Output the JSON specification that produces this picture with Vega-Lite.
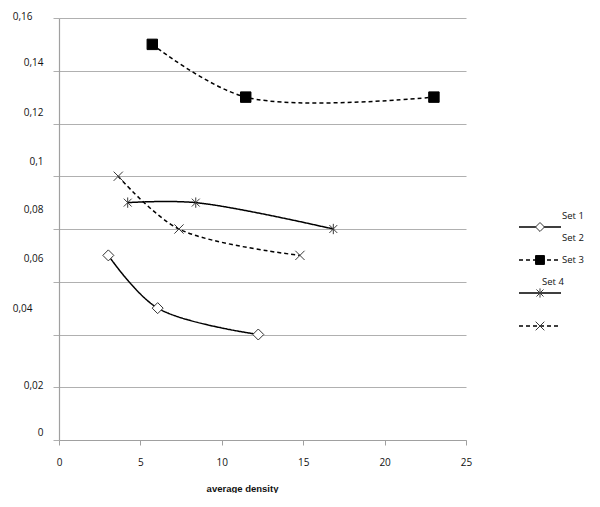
{
  "$schema": "https://vega.github.io/schema/vega-lite/v6.json",
  "padding": {"left": 12, "top": 11, "right": 0, "bottom": 0},
  "config": {"view": {"stroke": null}, "font": "Open Sans"},
  "data": {"values": [
    {"set": "Set 1", "x": 3.03, "y": 0.07},
    {"set": "Set 1", "x": 6.06, "y": 0.05},
    {"set": "Set 1", "x": 12.24, "y": 0.04},
    {"set": "Set 2", "x": 5.73, "y": 0.15},
    {"set": "Set 2", "x": 11.47, "y": 0.13},
    {"set": "Set 2", "x": 23.03, "y": 0.13},
    {"set": "Set 3", "x": 4.22, "y": 0.09},
    {"set": "Set 3", "x": 8.4, "y": 0.09},
    {"set": "Set 3", "x": 16.85, "y": 0.08},
    {"set": "Set 4", "x": 3.64, "y": 0.10},
    {"set": "Set 4", "x": 7.37, "y": 0.08},
    {"set": "Set 4", "x": 14.8, "y": 0.07}
  ]},
  "bounds": "flush",
  "spacing": 44,
  "hconcat": [
    {
      "width": 407,
      "height": 422,
      "layer": [
        {
          "mark": {"type": "line", "interpolate": "catmull-rom", "color": "#000000", "strokeWidth": 1.5},
          "encoding": {
            "x": {"field": "x", "type": "quantitative",
              "scale": {"domain": [0, 25], "nice": false},
              "axis": {"values": [0, 5, 10, 15, 20, 25], "grid": false, "title": "average density",
                "titleFont": "Liberation Sans", "titleFontSize": 9.5, "titleFontWeight": "bold", "titleColor": "#111111",
                "titleX": 183, "titleY": 48, "titleBaseline": "middle",
                "labelFont": "Open Sans", "labelFontSize": 10, "labelColor": "#111111", "labelFlush": false, "labelOverlap": false,
                "labelPadding": 12, "tickSize": 5, "tickColor": "#a0a0a0", "domainColor": "#a0a0a0", "domainWidth": 1.2}},
            "y": {"field": "y", "type": "quantitative",
              "scale": {"domain": [0, 0.16], "nice": false},
              "axis": {"values": [0, 0.02, 0.04, 0.06, 0.08, 0.1, 0.12, 0.14, 0.16], "title": null,
                "labelExpr": "replace(format(datum.value, '~g'), '.', ',')",
                "labelFont": "Open Sans", "labelFontSize": 10, "labelColor": "#111111", "labelFlush": false, "labelOverlap": false,
                "labelOffset": {"condition": [
                  {"test": "round(datum.value*100)==16", "value": -2},
                  {"test": "round(datum.value*100)==14", "value": -8},
                  {"test": "round(datum.value*100)==12", "value": -11},
                  {"test": "round(datum.value*100)==10", "value": -15},
                  {"test": "round(datum.value*100)==8", "value": -20},
                  {"test": "round(datum.value*100)==6", "value": -23},
                  {"test": "round(datum.value*100)==4", "value": -26},
                  {"test": "round(datum.value*100)==2", "value": -2}
                ], "value": -8},
                "labelPadding": {"condition": [
                  {"test": "round(datum.value*100)==16", "value": 21},
                  {"test": "round(datum.value*100)==4", "value": 21}
                ], "value": 10},
                "tickSize": 6, "tickColor": "#b0b0b0", "domainColor": "#a0a0a0", "domainWidth": 1.2,
                "gridColor": "#b0b0b0", "gridWidth": 1.2}},
            "detail": {"field": "set"},
            "strokeDash": {"field": "set", "type": "nominal",
              "scale": {"domain": ["Set 1", "Set 2", "Set 3", "Set 4"], "range": [[1, 0], [4, 3], [1, 0], [4, 3]]}, "legend": null}
          }
        },
        {
          "mark": {"type": "point", "filled": true, "opacity": 1, "strokeWidth": 1},
          "encoding": {
            "x": {"field": "x", "type": "quantitative"},
            "y": {"field": "y", "type": "quantitative"},
            "shape": {"field": "set", "type": "nominal", "legend": null,
              "scale": {"domain": ["Set 1", "Set 2", "Set 3", "Set 4"],
                "range": ["diamond", "square", "M-0.8,-0.8L0.8,0.8M-0.8,0.8L0.8,-0.8M0,-1.05L0,1.05", "M-1,-1L1,1M-1,1L1,-1"]}},
            "size": {"field": "set", "type": "nominal", "legend": null,
              "scale": {"domain": ["Set 1", "Set 2", "Set 3", "Set 4"], "range": [121, 85, 110, 70]}},
            "fill": {"field": "set", "type": "nominal", "legend": null,
              "scale": {"domain": ["Set 1", "Set 2", "Set 3", "Set 4"], "range": ["#ffffff", "#000000", "transparent", "transparent"]}},
            "stroke": {"field": "set", "type": "nominal", "legend": null,
              "scale": {"domain": ["Set 1", "Set 2", "Set 3", "Set 4"], "range": ["#333333", "#000000", "#3a3a3a", "#3a3a3a"]}}
          }
        }
      ]
    },
    {
      "width": 90,
      "height": 422,
      "transform": [{"aggregate": [{"op": "count", "as": "n"}], "groupby": ["set"]}],
      "layer": [
        {
          "mark": {"type": "rule", "color": "#000000", "strokeWidth": 1.5},
          "encoding": {
            "y": {"field": "set", "type": "nominal", "axis": null,
              "scale": {"type": "point", "domain": ["Set 1", "Set 2", "Set 3", "Set 4"], "range": [209, 308], "padding": 0}},
            "x": {"datum": 9, "type": "quantitative", "axis": null, "scale": {"domain": [0, 90], "nice": false}},
            "x2": {"datum": 51},
            "strokeDash": {"field": "set", "type": "nominal",
              "scale": {"domain": ["Set 1", "Set 2", "Set 3", "Set 4"], "range": [[1, 0], [4, 3], [1, 0], [4, 3]]}, "legend": null}
          }
        },
        {
          "mark": {"type": "point", "filled": true, "opacity": 1, "strokeWidth": 1},
          "encoding": {
            "y": {"field": "set", "type": "nominal", "axis": null,
              "scale": {"type": "point", "domain": ["Set 1", "Set 2", "Set 3", "Set 4"], "range": [209, 308], "padding": 0}},
            "x": {"datum": 30, "type": "quantitative", "axis": null, "scale": {"domain": [0, 90], "nice": false}},
            "shape": {"field": "set", "type": "nominal", "legend": null,
              "scale": {"domain": ["Set 1", "Set 2", "Set 3", "Set 4"],
                "range": ["diamond", "square", "M-0.8,-0.8L0.8,0.8M-0.8,0.8L0.8,-0.8M0,-1.05L0,1.05", "M-1,-1L1,1M-1,1L1,-1"]}},
            "size": {"field": "set", "type": "nominal", "legend": null,
              "scale": {"domain": ["Set 1", "Set 2", "Set 3", "Set 4"], "range": [80, 75, 80, 70]}},
            "fill": {"field": "set", "type": "nominal", "legend": null,
              "scale": {"domain": ["Set 1", "Set 2", "Set 3", "Set 4"], "range": ["#ffffff", "#000000", "transparent", "transparent"]}},
            "stroke": {"field": "set", "type": "nominal", "legend": null,
              "scale": {"domain": ["Set 1", "Set 2", "Set 3", "Set 4"], "range": ["#333333", "#000000", "#3a3a3a", "#3a3a3a"]}}
          }
        },
        {
          "transform": [{"filter": "datum.set != 'Set 4'"}],
          "mark": {"type": "text", "align": "left", "baseline": "middle", "font": "Open Sans", "fontSize": 9.5, "color": "#111111"},
          "encoding": {
            "y": {"field": "set", "type": "nominal", "axis": null,
              "scale": {"type": "point", "domain": ["Set 1", "Set 2", "Set 3", "Set 4"], "range": [198, 264], "padding": 0}},
            "x": {"datum": 52, "type": "quantitative", "axis": null, "scale": {"domain": [0, 90], "nice": false}},
            "text": {"field": "set"}
          }
        },
        {
          "transform": [{"filter": "datum.set == 'Set 4'"}],
          "mark": {"type": "text", "align": "left", "baseline": "middle", "font": "Open Sans", "fontSize": 9.5, "color": "#111111"},
          "encoding": {
            "y": {"field": "set", "type": "nominal", "axis": null,
              "scale": {"type": "point", "domain": ["Set 1", "Set 2", "Set 3", "Set 4"], "range": [198, 264], "padding": 0}},
            "x": {"datum": 32, "type": "quantitative", "axis": null, "scale": {"domain": [0, 90], "nice": false}},
            "text": {"field": "set"}
          }
        }
      ],
      "resolve": {"scale": {"y": "independent", "shape": "independent", "size": "independent"}}
    }
  ],
  "resolve": {"scale": {"x": "independent", "y": "independent", "size": "independent"}}
}
